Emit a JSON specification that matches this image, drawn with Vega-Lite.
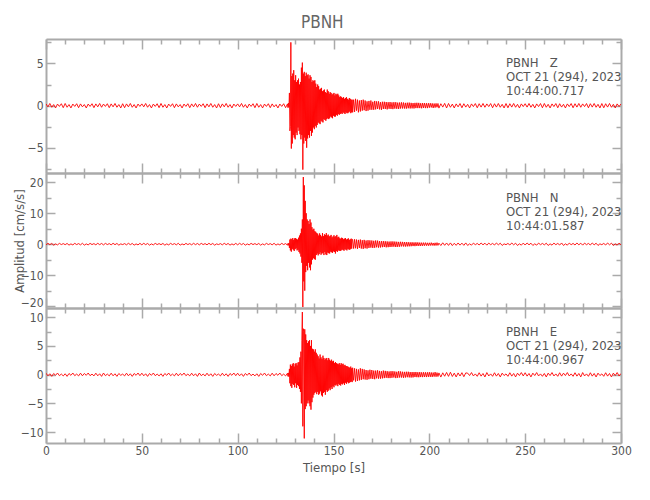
{
"$schema": "https://vega.github.io/schema/vega-lite/v6.json",
"background": "white",
"padding": {"left": 13, "top": 14, "right": 10, "bottom": 5},
"bounds": "flush",
"title": {"text": "PBNH", "fontSize": 17, "font": "DejaVu Sans Condensed, sans-serif", "fontWeight": "normal", "color": "#666666", "anchor": "middle", "offset": 4},
"spacing": 0,
"config": {
  "view": {"stroke": null},
  "concat": {"spacing": 0},
  "axis": {"domainColor": "#aaaaaa", "domainWidth": 2, "tickColor": "#aaaaaa", "tickWidth": 1.5, "labelColor": "#555555", "labelFont": "DejaVu Sans Condensed, sans-serif", "labelFontSize": 12, "titleFont": "DejaVu Sans Condensed, sans-serif", "titleFontSize": 13, "titleFontWeight": "normal", "titleColor": "#555555", "grid": false, "labelFlush": false, "labelOverlap": false}
},
"datasets": {
"lab": [
{"c": "Z", "t": 240, "v": 5.8, "s": "PBNH\u00a0\u00a0\u00a0Z|OCT 21 (294), 2023|10:44:00.717"},
{"c": "N", "t": 240, "v": 17.0, "s": "PBNH\u00a0\u00a0\u00a0N|OCT 21 (294), 2023|10:44:01.587"},
{"c": "E", "t": 240, "v": 8.5, "s": "PBNH\u00a0\u00a0\u00a0E|OCT 21 (294), 2023|10:44:00.967"}
],
"w": [
{"t":0,"z":0.2,"n":-0.2,"e":0.25},{"t":1,"z":-0.15,"n":0.3,"e":-0.2},{"t":2,"z":0.25,"n":-0.15,"e":0.15},{"t":3,"z":-0.2,"n":0.25,"e":-0.3},{"t":4,"z":0.12,"n":-0.3,"e":0.2},{"t":5,"z":-0.28,"n":0.1,"e":-0.12},{"t":6,"z":0.18,"n":-0.22,"e":0.28},{"t":7,"z":-0.1,"n":0.28,"e":-0.18},{"t":8,"z":0.22,"n":-0.12,"e":0.1},{"t":9,"z":-0.25,"n":0.2,"e":-0.22},
{"t":10,"z":0.25,"n":-0.15,"e":0.15},{"t":11,"z":-0.2,"n":0.25,"e":-0.3},{"t":12,"z":0.12,"n":-0.3,"e":0.2},{"t":13,"z":-0.28,"n":0.1,"e":-0.12},{"t":14,"z":0.18,"n":-0.22,"e":0.28},{"t":15,"z":-0.1,"n":0.28,"e":-0.18},{"t":16,"z":0.22,"n":-0.12,"e":0.1},{"t":17,"z":-0.25,"n":0.2,"e":-0.22},{"t":18,"z":0.2,"n":-0.2,"e":0.25},{"t":19,"z":-0.15,"n":0.3,"e":-0.2},
{"t":20,"z":0.12,"n":-0.3,"e":0.2},{"t":21,"z":-0.28,"n":0.1,"e":-0.12},{"t":22,"z":0.18,"n":-0.22,"e":0.28},{"t":23,"z":-0.1,"n":0.28,"e":-0.18},{"t":24,"z":0.22,"n":-0.12,"e":0.1},{"t":25,"z":-0.25,"n":0.2,"e":-0.22},{"t":26,"z":0.2,"n":-0.2,"e":0.25},{"t":27,"z":-0.15,"n":0.3,"e":-0.2},{"t":28,"z":0.25,"n":-0.15,"e":0.15},{"t":29,"z":-0.2,"n":0.25,"e":-0.3},
{"t":30,"z":0.18,"n":-0.22,"e":0.28},{"t":31,"z":-0.1,"n":0.28,"e":-0.18},{"t":32,"z":0.22,"n":-0.12,"e":0.1},{"t":33,"z":-0.25,"n":0.2,"e":-0.22},{"t":34,"z":0.2,"n":-0.2,"e":0.25},{"t":35,"z":-0.15,"n":0.3,"e":-0.2},{"t":36,"z":0.25,"n":-0.15,"e":0.15},{"t":37,"z":-0.2,"n":0.25,"e":-0.3},{"t":38,"z":0.12,"n":-0.3,"e":0.2},{"t":39,"z":-0.28,"n":0.1,"e":-0.12},
{"t":40,"z":0.22,"n":-0.12,"e":0.1},{"t":41,"z":-0.25,"n":0.2,"e":-0.22},{"t":42,"z":0.2,"n":-0.2,"e":0.25},{"t":43,"z":-0.15,"n":0.3,"e":-0.2},{"t":44,"z":0.25,"n":-0.15,"e":0.15},{"t":45,"z":-0.2,"n":0.25,"e":-0.3},{"t":46,"z":0.12,"n":-0.3,"e":0.2},{"t":47,"z":-0.28,"n":0.1,"e":-0.12},{"t":48,"z":0.18,"n":-0.22,"e":0.28},{"t":49,"z":-0.1,"n":0.28,"e":-0.18},
{"t":50,"z":0.2,"n":-0.2,"e":0.25},{"t":51,"z":-0.15,"n":0.3,"e":-0.2},{"t":52,"z":0.25,"n":-0.15,"e":0.15},{"t":53,"z":-0.2,"n":0.25,"e":-0.3},{"t":54,"z":0.12,"n":-0.3,"e":0.2},{"t":55,"z":-0.28,"n":0.1,"e":-0.12},{"t":56,"z":0.18,"n":-0.22,"e":0.28},{"t":57,"z":-0.1,"n":0.28,"e":-0.18},{"t":58,"z":0.22,"n":-0.12,"e":0.1},{"t":59,"z":-0.25,"n":0.2,"e":-0.22},
{"t":60,"z":0.25,"n":-0.15,"e":0.15},{"t":61,"z":-0.2,"n":0.25,"e":-0.3},{"t":62,"z":0.12,"n":-0.3,"e":0.2},{"t":63,"z":-0.28,"n":0.1,"e":-0.12},{"t":64,"z":0.18,"n":-0.22,"e":0.28},{"t":65,"z":-0.1,"n":0.28,"e":-0.18},{"t":66,"z":0.22,"n":-0.12,"e":0.1},{"t":67,"z":-0.25,"n":0.2,"e":-0.22},{"t":68,"z":0.2,"n":-0.2,"e":0.25},{"t":69,"z":-0.15,"n":0.3,"e":-0.2},
{"t":70,"z":0.12,"n":-0.3,"e":0.2},{"t":71,"z":-0.28,"n":0.1,"e":-0.12},{"t":72,"z":0.18,"n":-0.22,"e":0.28},{"t":73,"z":-0.1,"n":0.28,"e":-0.18},{"t":74,"z":0.22,"n":-0.12,"e":0.1},{"t":75,"z":-0.25,"n":0.2,"e":-0.22},{"t":76,"z":0.2,"n":-0.2,"e":0.25},{"t":77,"z":-0.15,"n":0.3,"e":-0.2},{"t":78,"z":0.25,"n":-0.15,"e":0.15},{"t":79,"z":-0.2,"n":0.25,"e":-0.3},
{"t":80,"z":0.18,"n":-0.22,"e":0.28},{"t":81,"z":-0.1,"n":0.28,"e":-0.18},{"t":82,"z":0.22,"n":-0.12,"e":0.1},{"t":83,"z":-0.25,"n":0.2,"e":-0.22},{"t":84,"z":0.2,"n":-0.2,"e":0.25},{"t":85,"z":-0.15,"n":0.3,"e":-0.2},{"t":86,"z":0.25,"n":-0.15,"e":0.15},{"t":87,"z":-0.2,"n":0.25,"e":-0.3},{"t":88,"z":0.12,"n":-0.3,"e":0.2},{"t":89,"z":-0.28,"n":0.1,"e":-0.12},
{"t":90,"z":0.22,"n":-0.12,"e":0.1},{"t":91,"z":-0.25,"n":0.2,"e":-0.22},{"t":92,"z":0.2,"n":-0.2,"e":0.25},{"t":93,"z":-0.15,"n":0.3,"e":-0.2},{"t":94,"z":0.25,"n":-0.15,"e":0.15},{"t":95,"z":-0.2,"n":0.25,"e":-0.3},{"t":96,"z":0.12,"n":-0.3,"e":0.2},{"t":97,"z":-0.28,"n":0.1,"e":-0.12},{"t":98,"z":0.18,"n":-0.22,"e":0.28},{"t":99,"z":-0.1,"n":0.28,"e":-0.18},
{"t":100,"z":0.2,"n":-0.2,"e":0.25},{"t":101,"z":-0.15,"n":0.3,"e":-0.2},{"t":102,"z":0.25,"n":-0.15,"e":0.15},{"t":103,"z":-0.2,"n":0.25,"e":-0.3},{"t":104,"z":0.12,"n":-0.3,"e":0.2},{"t":105,"z":-0.28,"n":0.1,"e":-0.12},{"t":106,"z":0.18,"n":-0.22,"e":0.28},{"t":107,"z":-0.1,"n":0.28,"e":-0.18},{"t":108,"z":0.22,"n":-0.12,"e":0.1},{"t":109,"z":-0.25,"n":0.2,"e":-0.22},
{"t":110,"z":0.25,"n":-0.15,"e":0.15},{"t":111,"z":-0.2,"n":0.25,"e":-0.3},{"t":112,"z":0.12,"n":-0.3,"e":0.2},{"t":113,"z":-0.28,"n":0.1,"e":-0.12},{"t":114,"z":0.18,"n":-0.22,"e":0.28},{"t":115,"z":-0.1,"n":0.28,"e":-0.18},{"t":116,"z":0.22,"n":-0.12,"e":0.1},{"t":117,"z":-0.25,"n":0.2,"e":-0.22},{"t":118,"z":0.2,"n":-0.2,"e":0.25},{"t":119,"z":-0.15,"n":0.3,"e":-0.2},
{"t":120,"z":0.12,"n":-0.3,"e":0.2},{"t":121,"z":-0.28,"n":0.1,"e":-0.12},{"t":122,"z":0.18,"n":-0.22,"e":0.28},{"t":123,"z":-0.1,"n":0.28,"e":-0.18},{"t":124,"z":0.22,"n":-0.12,"e":0.1},{"t":125,"z":-0.25,"n":0.2,"e":-0.22},
{"t":126,"z":0.2,"n":-0.3,"e":0.25},{"t":126.25,"z":-0.25,"n":0.25,"e":-0.3},{"t":126.5,"z":0.3,"n":-0.35,"e":0.3},{"t":126.75,"z":-0.2,"n":0.4,"e":-0.35},
{"t":127,"z":1.5,"n":-1.2,"e":1.0},{"t":127.25,"z":-3.0,"n":1.5,"e":-1.5},{"t":127.5,"z":-2.5,"n":-2.0,"e":1.75},{"t":127.75,"z":7.5,"n":1.8,"e":-2.0},
{"t":128,"z":-5.1,"n":-2.4,"e":1.5},{"t":128.25,"z":3.5,"n":1.6,"e":-2.3},{"t":128.5,"z":-4.5,"n":-1.5,"e":1.8},{"t":128.75,"z":3.8,"n":2.0,"e":-1.6},
{"t":129,"z":-3.5,"n":-1.8,"e":2.0},{"t":129.25,"z":4.2,"n":1.4,"e":-1.8},{"t":129.5,"z":-3.8,"n":-2.2,"e":1.4},{"t":129.75,"z":3.0,"n":1.9,"e":-2.2},
{"t":130,"z":-4.0,"n":-1.6,"e":1.9},{"t":130.25,"z":3.6,"n":2.0,"e":-1.5},{"t":130.5,"z":-3.2,"n":-1.3,"e":2.0},{"t":130.75,"z":2.8,"n":1.7,"e":-2.3},
{"t":131,"z":-3.5,"n":-2.0,"e":1.6},{"t":131.25,"z":3.0,"n":1.5,"e":-1.8},{"t":131.5,"z":-2.6,"n":-1.8,"e":2.1},{"t":131.75,"z":3.2,"n":2.1,"e":-2.0},
{"t":132,"z":-3.0,"n":-2.5,"e":2.2},{"t":132.25,"z":2.5,"n":2.8,"e":-2.5},{"t":132.5,"z":-3.4,"n":-3.0,"e":3.0},{"t":132.75,"z":2.8,"n":3.5,"e":-3.0},
{"t":133,"z":-4.0,"n":-4.0,"e":4.0},{"t":133.25,"z":4.5,"n":5.0,"e":-5.0},{"t":133.5,"z":-3.5,"n":-6.0,"e":6.0},{"t":133.75,"z":5.1,"n":8.0,"e":10.9},
{"t":134,"z":-7.6,"n":-20.3,"e":-9.0},{"t":134.25,"z":3.8,"n":21.7,"e":8.0},{"t":134.5,"z":-4.5,"n":-12.0,"e":7.5},{"t":134.75,"z":4.0,"n":19.0,"e":-11.1},
{"t":135,"z":-3.8,"n":-15.0,"e":7.9},{"t":135.25,"z":3.5,"n":14.0,"e":-6.0},{"t":135.5,"z":-4.2,"n":-9.0,"e":7.0},{"t":135.75,"z":3.9,"n":10.0,"e":-5.5},
{"t":136,"z":-5.0,"n":-7.0,"e":6.0},{"t":136.25,"z":3.6,"n":8.0,"e":-5.0},{"t":136.5,"z":-3.9,"n":-8.4,"e":5.5},{"t":136.75,"z":3.7,"n":7.5,"e":-4.5},
{"t":137,"z":-3.5,"n":-6.0,"e":5.8},{"t":137.25,"z":3.2,"n":6.5,"e":-5.0},{"t":137.5,"z":-3.8,"n":-7.5,"e":6.0},{"t":137.75,"z":3.6,"n":8.0,"e":-5.5},
{"t":138,"z":-3.0,"n":-8.4,"e":5.0},{"t":138.25,"z":3.4,"n":7.0,"e":-6.1},{"t":138.5,"z":-3.6,"n":-6.5,"e":6.0},{"t":138.75,"z":2.8,"n":5.5,"e":-4.8},
{"t":139,"z":-3.2,"n":-5.0,"e":4.5},{"t":139.25,"z":3.0,"n":4.7,"e":-4.0},{"t":139.5,"z":-2.6,"n":-4.5,"e":4.4},{"t":139.75,"z":2.9,"n":5.0,"e":-3.5},
{"t":140,"z":-2.8,"n":-4.8,"e":4.0},{"t":140.25,"z":3.0,"n":4.2,"e":-3.2},{"t":140.5,"z":-2.4,"n":-5.0,"e":4.4},{"t":140.75,"z":2.6,"n":4.0,"e":-3.0},
{"t":141,"z":-2.6,"n":-3.5,"e":3.8},{"t":141.25,"z":2.2,"n":3.6,"e":-3.4},{"t":141.5,"z":-2.3,"n":-3.0,"e":3.5},{"t":141.75,"z":2.5,"n":3.4,"e":-3.0},
{"t":142,"z":-2.0,"n":-3.6,"e":3.2},{"t":142.25,"z":2.3,"n":2.8,"e":-3.5},{"t":142.5,"z":-2.1,"n":-3.2,"e":2.8},{"t":142.75,"z":1.9,"n":3.5,"e":-3.3},
{"t":143,"z":-2.2,"n":-2.6,"e":3.5},{"t":143.25,"z":2.0,"n":3.0,"e":-2.9},{"t":143.5,"z":-1.8,"n":-3.4,"e":3.0},{"t":143.75,"z":2.1,"n":2.5,"e":-3.6},
{"t":144,"z":-1.9,"n":-3.0,"e":2.7},{"t":144.25,"z":1.7,"n":3.6,"e":-3.8},{"t":144.5,"z":-2.0,"n":-2.8,"e":3.3},{"t":144.75,"z":1.8,"n":2.6,"e":-3.2},
{"t":145,"z":-1.6,"n":-3.5,"e":2.9},{"t":145.25,"z":1.9,"n":3.2,"e":-3.0},{"t":145.5,"z":-1.7,"n":-2.5,"e":2.6},{"t":145.75,"z":1.6,"n":3.0,"e":-3.5},
{"t":146,"z":-1.8,"n":-3.3,"e":2.8},{"t":146.25,"z":1.5,"n":3.6,"e":-2.7},{"t":146.5,"z":-1.6,"n":-3.5,"e":2.9},{"t":146.75,"z":1.9,"n":2.8,"e":-3.0},
{"t":147,"z":-1.5,"n":-2.7,"e":2.5},{"t":147.25,"z":1.7,"n":3.1,"e":-2.8},{"t":147.5,"z":-1.6,"n":-2.9,"e":2.9},{"t":147.75,"z":1.4,"n":2.5,"e":-2.4},
{"t":148,"z":-1.5,"n":-3.0,"e":2.6},{"t":148.25,"z":1.6,"n":2.7,"e":-2.7},{"t":148.5,"z":-1.3,"n":-2.4,"e":2.4},{"t":148.75,"z":1.5,"n":3.0,"e":-2.2},
{"t":149,"z":-1.4,"n":-2.6,"e":2.6},{"t":149.25,"z":1.3,"n":2.2,"e":-2.5},{"t":149.5,"z":-1.5,"n":-2.8,"e":2.3},{"t":149.75,"z":1.4,"n":2.5,"e":-2.0},
{"t":150,"z":-1.2,"n":-2.3,"e":2.4},{"t":150.25,"z":1.5,"n":2.9,"e":-2.2},{"t":150.5,"z":-1.3,"n":-2.5,"e":2.0},{"t":150.75,"z":1.2,"n":2.4,"e":-1.8},
{"t":151,"z":-1.3,"n":-3.0,"e":2.2},{"t":151.25,"z":1.4,"n":2.6,"e":-1.9},{"t":151.5,"z":-1.1,"n":-2.2,"e":2.0},{"t":151.75,"z":1.3,"n":3.0,"e":-1.7},
{"t":152,"z":-1.2,"n":-2.5,"e":1.9},{"t":152.25,"z":1.4,"n":2.2,"e":-2.0},{"t":152.5,"z":-1.0,"n":-2.0,"e":1.8},{"t":152.75,"z":1.2,"n":2.4,"e":-1.6},
{"t":153,"z":-1.1,"n":-2.1,"e":2.0},{"t":153.25,"z":1.0,"n":1.9,"e":-1.8},{"t":153.5,"z":-1.0,"n":-2.2,"e":1.7},{"t":153.75,"z":1.1,"n":1.8,"e":-1.9},
{"t":154,"z":-0.9,"n":-2.0,"e":2.0},{"t":154.25,"z":1.0,"n":2.1,"e":-1.6},{"t":154.5,"z":-1.0,"n":-1.7,"e":1.8},{"t":154.75,"z":0.9,"n":2.0,"e":-1.7},
{"t":155,"z":-0.8,"n":-1.9,"e":1.9},{"t":155.25,"z":1.0,"n":1.6,"e":-1.5},{"t":155.5,"z":-0.9,"n":-2.1,"e":1.6},{"t":155.75,"z":0.8,"n":1.8,"e":-1.8},
{"t":156,"z":-1.0,"n":-1.6,"e":1.7},{"t":156.25,"z":0.9,"n":2.0,"e":-1.4},{"t":156.5,"z":-0.8,"n":-1.8,"e":1.5},{"t":156.75,"z":1.0,"n":1.5,"e":-1.6},
{"t":157,"z":-0.9,"n":-2.0,"e":1.5},{"t":157.25,"z":0.8,"n":1.7,"e":-1.3},{"t":157.5,"z":-0.9,"n":-1.5,"e":1.4},{"t":157.75,"z":0.7,"n":1.9,"e":-1.5},
{"t":158,"z":-0.8,"n":-1.7,"e":1.3},{"t":158.25,"z":0.9,"n":1.4,"e":-1.4},{"t":158.5,"z":-0.7,"n":-1.8,"e":1.2},{"t":158.75,"z":0.8,"n":1.6,"e":-1.3},
{"t":159,"z":-0.9,"n":-1.5,"e":1.4},{"t":159.25,"z":0.7,"n":1.8,"e":-1.2},{"t":159.5,"z":-0.8,"n":-1.4,"e":1.1},{"t":159.75,"z":0.7,"n":1.6,"e":-1.3},
{"t":160,"z":-0.8,"n":1.5,"e":1.2},{"t":160.5,"z":0.7,"n":-1.4,"e":-1.0},{"t":161,"z":-0.75,"n":1.6,"e":1.1},{"t":161.5,"z":0.8,"n":-1.3,"e":-1.2},
{"t":162,"z":-0.6,"n":1.5,"e":1.0},{"t":162.5,"z":0.7,"n":-1.5,"e":-1.1},{"t":163,"z":-0.8,"n":1.4,"e":0.9},{"t":163.5,"z":0.6,"n":-1.2,"e":-1.0},
{"t":164,"z":-0.7,"n":1.5,"e":1.1},{"t":164.5,"z":0.65,"n":-1.4,"e":-0.9},{"t":165,"z":-0.6,"n":1.3,"e":1.0},{"t":165.5,"z":0.7,"n":-1.5,"e":-0.8},
{"t":166,"z":-0.55,"n":1.4,"e":0.9},{"t":166.5,"z":0.6,"n":-1.3,"e":-0.85},{"t":167,"z":-0.65,"n":1.2,"e":0.8},{"t":167.5,"z":0.5,"n":-1.4,"e":-0.9},
{"t":168,"z":-0.6,"n":1.3,"e":0.75},{"t":168.5,"z":0.55,"n":-1.2,"e":-0.8},{"t":169,"z":-0.5,"n":1.25,"e":0.85},{"t":169.5,"z":0.6,"n":-1.1,"e":-0.7},
{"t":170,"z":-0.5,"n":1.2,"e":0.8},{"t":170.5,"z":0.45,"n":-1.2,"e":-0.75},{"t":171,"z":-0.5,"n":1.1,"e":0.7},{"t":171.5,"z":0.55,"n":-1.15,"e":-0.8},
{"t":172,"z":-0.45,"n":1.2,"e":0.7},{"t":172.5,"z":0.5,"n":-1.0,"e":-0.65},{"t":173,"z":-0.4,"n":1.15,"e":0.75},{"t":173.5,"z":0.5,"n":-1.1,"e":-0.7},
{"t":174,"z":-0.45,"n":1.0,"e":0.65},{"t":174.5,"z":0.4,"n":-1.05,"e":-0.7},{"t":175,"z":-0.5,"n":1.0,"e":0.6},{"t":175.5,"z":0.45,"n":-0.95,"e":-0.65},
{"t":176,"z":-0.4,"n":1.0,"e":0.7},{"t":176.5,"z":0.45,"n":-0.9,"e":-0.6},{"t":177,"z":-0.4,"n":0.95,"e":0.65},{"t":177.5,"z":0.42,"n":-1.0,"e":-0.55},
{"t":178,"z":-0.45,"n":0.9,"e":0.6},{"t":178.5,"z":0.4,"n":-0.95,"e":-0.6},{"t":179,"z":-0.38,"n":0.85,"e":0.55},{"t":179.5,"z":0.42,"n":-0.9,"e":-0.6},
{"t":180,"z":-0.4,"n":0.9,"e":0.6},{"t":180.5,"z":0.38,"n":-0.85,"e":-0.55},{"t":181,"z":-0.42,"n":0.9,"e":0.6},{"t":181.5,"z":0.4,"n":-0.8,"e":-0.5},
{"t":182,"z":-0.36,"n":0.85,"e":0.55},{"t":182.5,"z":0.4,"n":-0.9,"e":-0.6},{"t":183,"z":-0.38,"n":0.8,"e":0.5},{"t":183.5,"z":0.35,"n":-0.85,"e":-0.55},
{"t":184,"z":-0.4,"n":0.75,"e":0.6},{"t":184.5,"z":0.36,"n":-0.8,"e":-0.5},{"t":185,"z":-0.35,"n":0.78,"e":0.55},{"t":185.5,"z":0.38,"n":-0.7,"e":-0.5},
{"t":186,"z":-0.34,"n":0.75,"e":0.5},{"t":186.5,"z":0.36,"n":-0.72,"e":-0.55},{"t":187,"z":-0.35,"n":0.7,"e":0.48},{"t":187.5,"z":0.32,"n":-0.75,"e":-0.5},
{"t":188,"z":-0.36,"n":0.68,"e":0.5},{"t":188.5,"z":0.34,"n":-0.7,"e":-0.45},{"t":189,"z":-0.32,"n":0.65,"e":0.5},{"t":189.5,"z":0.35,"n":-0.68,"e":-0.48},
{"t":190,"z":-0.34,"n":0.6,"e":0.45},{"t":190.5,"z":0.32,"n":-0.65,"e":-0.5},{"t":191,"z":-0.33,"n":0.62,"e":0.45},{"t":191.5,"z":0.3,"n":-0.6,"e":-0.48},
{"t":192,"z":-0.34,"n":0.58,"e":0.45},{"t":192.5,"z":0.32,"n":-0.62,"e":-0.42},{"t":193,"z":-0.3,"n":0.6,"e":0.46},{"t":193.5,"z":0.33,"n":-0.55,"e":-0.44},
{"t":194,"z":-0.3,"n":0.58,"e":0.42},{"t":194.5,"z":0.32,"n":-0.55,"e":-0.45},{"t":195,"z":-0.3,"n":0.52,"e":0.44},{"t":195.5,"z":0.28,"n":-0.55,"e":-0.42},
{"t":196,"z":-0.32,"n":0.5,"e":0.4},{"t":196.5,"z":0.3,"n":-0.52,"e":-0.43},{"t":197,"z":-0.28,"n":0.5,"e":0.42},{"t":197.5,"z":0.3,"n":-0.48,"e":-0.4},
{"t":198,"z":-0.3,"n":0.5,"e":0.4},{"t":198.5,"z":0.28,"n":-0.46,"e":-0.42},{"t":199,"z":-0.3,"n":0.45,"e":0.4},{"t":199.5,"z":0.28,"n":-0.48,"e":-0.38},
{"t":200,"z":-0.25,"n":0.45,"e":0.42},{"t":200.5,"z":0.28,"n":-0.42,"e":-0.38},{"t":201,"z":-0.22,"n":0.5,"e":0.38},{"t":201.5,"z":0.26,"n":-0.4,"e":-0.4},{"t":202,"z":-0.28,"n":0.4,"e":0.36},{"t":202.5,"z":0.24,"n":-0.45,"e":-0.34},{"t":203,"z":-0.24,"n":0.45,"e":0.44},{"t":203.5,"z":0.26,"n":-0.42,"e":-0.36},{"t":204,"z":-0.2,"n":0.5,"e":0.35},{"t":204.5,"z":0.25,"n":-0.38,"e":-0.33},
{"t":205,"z":-0.3,"n":0.35,"e":0.3},{"t":206,"z":0.22,"n":-0.42,"e":-0.42},{"t":207,"z":-0.18,"n":0.46,"e":0.32},{"t":208,"z":0.26,"n":-0.35,"e":-0.28},{"t":209,"z":-0.28,"n":0.4,"e":0.38},
{"t":210,"z":0.25,"n":-0.38,"e":-0.3},{"t":211,"z":-0.2,"n":0.42,"e":0.42},{"t":212,"z":0.18,"n":-0.45,"e":-0.32},{"t":213,"z":-0.28,"n":0.3,"e":0.26},{"t":214,"z":0.2,"n":-0.36,"e":-0.4},{"t":215,"z":-0.15,"n":0.4,"e":0.3},{"t":216,"z":0.24,"n":-0.3,"e":-0.24},{"t":217,"z":-0.26,"n":0.34,"e":0.34},{"t":218,"z":0.22,"n":-0.36,"e":-0.36},{"t":219,"z":-0.18,"n":0.42,"e":0.3},
{"t":220,"z":0.15,"n":-0.4,"e":0.26},{"t":221,"z":-0.28,"n":0.13,"e":-0.16},{"t":222,"z":0.2,"n":-0.3,"e":0.36},{"t":223,"z":-0.12,"n":0.36,"e":-0.23},{"t":224,"z":0.24,"n":-0.16,"e":0.13},{"t":225,"z":-0.26,"n":0.26,"e":-0.29},{"t":226,"z":0.22,"n":-0.26,"e":0.33},{"t":227,"z":-0.18,"n":0.4,"e":-0.26},{"t":228,"z":0.25,"n":-0.2,"e":0.2},{"t":229,"z":-0.2,"n":0.33,"e":-0.4},
{"t":230,"z":0.2,"n":-0.3,"e":0.36},{"t":231,"z":-0.12,"n":0.36,"e":-0.23},{"t":232,"z":0.24,"n":-0.16,"e":0.13},{"t":233,"z":-0.26,"n":0.26,"e":-0.29},{"t":234,"z":0.22,"n":-0.26,"e":0.33},{"t":235,"z":-0.18,"n":0.4,"e":-0.26},{"t":236,"z":0.25,"n":-0.2,"e":0.2},{"t":237,"z":-0.2,"n":0.33,"e":-0.4},{"t":238,"z":0.15,"n":-0.4,"e":0.26},{"t":239,"z":-0.28,"n":0.13,"e":-0.16},
{"t":240,"z":0.24,"n":-0.16,"e":0.13},{"t":241,"z":-0.26,"n":0.26,"e":-0.29},{"t":242,"z":0.22,"n":-0.26,"e":0.33},{"t":243,"z":-0.18,"n":0.4,"e":-0.26},{"t":244,"z":0.25,"n":-0.2,"e":0.2},{"t":245,"z":-0.2,"n":0.33,"e":-0.4},{"t":246,"z":0.15,"n":-0.4,"e":0.26},{"t":247,"z":-0.28,"n":0.13,"e":-0.16},{"t":248,"z":0.2,"n":-0.3,"e":0.36},{"t":249,"z":-0.12,"n":0.36,"e":-0.23},
{"t":250,"z":0.22,"n":-0.26,"e":0.33},{"t":251,"z":-0.18,"n":0.4,"e":-0.26},{"t":252,"z":0.25,"n":-0.2,"e":0.2},{"t":253,"z":-0.2,"n":0.33,"e":-0.4},{"t":254,"z":0.15,"n":-0.4,"e":0.26},{"t":255,"z":-0.28,"n":0.13,"e":-0.16},{"t":256,"z":0.2,"n":-0.3,"e":0.36},{"t":257,"z":-0.12,"n":0.36,"e":-0.23},{"t":258,"z":0.24,"n":-0.16,"e":0.13},{"t":259,"z":-0.26,"n":0.26,"e":-0.29},
{"t":260,"z":0.25,"n":-0.2,"e":0.2},{"t":261,"z":-0.2,"n":0.33,"e":-0.4},{"t":262,"z":0.15,"n":-0.4,"e":0.26},{"t":263,"z":-0.28,"n":0.13,"e":-0.16},{"t":264,"z":0.2,"n":-0.3,"e":0.36},{"t":265,"z":-0.12,"n":0.36,"e":-0.23},{"t":266,"z":0.24,"n":-0.16,"e":0.13},{"t":267,"z":-0.26,"n":0.26,"e":-0.29},{"t":268,"z":0.22,"n":-0.26,"e":0.33},{"t":269,"z":-0.18,"n":0.4,"e":-0.26},
{"t":270,"z":0.15,"n":-0.4,"e":0.26},{"t":271,"z":-0.28,"n":0.13,"e":-0.16},{"t":272,"z":0.2,"n":-0.3,"e":0.36},{"t":273,"z":-0.12,"n":0.36,"e":-0.23},{"t":274,"z":0.24,"n":-0.16,"e":0.13},{"t":275,"z":-0.26,"n":0.26,"e":-0.29},{"t":276,"z":0.22,"n":-0.26,"e":0.33},{"t":277,"z":-0.18,"n":0.4,"e":-0.26},{"t":278,"z":0.25,"n":-0.2,"e":0.2},{"t":279,"z":-0.2,"n":0.33,"e":-0.4},
{"t":280,"z":0.2,"n":-0.3,"e":0.36},{"t":281,"z":-0.12,"n":0.36,"e":-0.23},{"t":282,"z":0.24,"n":-0.16,"e":0.13},{"t":283,"z":-0.26,"n":0.26,"e":-0.29},{"t":284,"z":0.22,"n":-0.26,"e":0.33},{"t":285,"z":-0.18,"n":0.4,"e":-0.26},{"t":286,"z":0.25,"n":-0.2,"e":0.2},{"t":287,"z":-0.2,"n":0.33,"e":-0.4},{"t":288,"z":0.15,"n":-0.4,"e":0.26},{"t":289,"z":-0.28,"n":0.13,"e":-0.16},
{"t":290,"z":0.24,"n":-0.16,"e":0.13},{"t":291,"z":-0.26,"n":0.26,"e":-0.29},{"t":292,"z":0.22,"n":-0.26,"e":0.33},{"t":293,"z":-0.18,"n":0.4,"e":-0.26},{"t":294,"z":0.25,"n":-0.2,"e":0.2},{"t":295,"z":-0.2,"n":0.33,"e":-0.4},{"t":296,"z":0.15,"n":-0.4,"e":0.26},{"t":297,"z":-0.28,"n":0.13,"e":-0.16},{"t":298,"z":0.2,"n":-0.3,"e":0.36},{"t":299,"z":-0.12,"n":0.36,"e":-0.23},
{"t":300,"z":0.2,"n":-0.2,"e":0.2}
]
},
"vconcat": [
{
  "width": 575, "height": 134,
  "layer": [
    {"data": {"name": "w"}, "mark": {"type": "line", "color": "#ff0000", "strokeWidth": 0.9, "clip": true},
     "encoding": {
       "x": {"field": "t", "type": "quantitative", "scale": {"domain": [0, 300], "nice": false}, "axis": {"orient": "bottom", "title": null, "labels": false, "values": [0,10,20,30,40,50,60,70,80,90,100,110,120,130,140,150,160,170,180,190,200,210,220,230,240,250,260,270,280,290,300], "tickSize": {"condition": {"test": "datum.value % 50 === 0", "value": -10}, "value": -5}}},
       "y": {"field": "z", "type": "quantitative", "scale": {"domain": [-8, 7.9], "nice": false, "zero": false}, "axis": {"orient": "left", "title": null, "values": [-7.5,-5,-2.5,0,2.5,5,7.5], "labelExpr": "datum.value % 5 === 0 ? datum.label : ''", "tickSize": {"condition": {"test": "datum.value % 5 === 0", "value": -9}, "value": -5}, "labelPadding": 12}}
     }},
    {"data": {"name": "lab"}, "transform": [{"filter": "datum.c === 'Z'"}],
     "mark": {"type": "text", "align": "left", "baseline": "top", "lineBreak": "|", "font": "DejaVu Sans Condensed, sans-serif", "fontSize": 13, "color": "#555555", "lineHeight": 14},
     "encoding": {
       "x": {"field": "t", "type": "quantitative", "axis": {"orient": "top", "title": null, "labels": false, "values": [0,10,20,30,40,50,60,70,80,90,100,110,120,130,140,150,160,170,180,190,200,210,220,230,240,250,260,270,280,290,300], "tickSize": {"condition": {"test": "datum.value % 50 === 0", "value": -10}, "value": -5}}},
       "y": {"field": "v", "type": "quantitative", "axis": {"orient": "right", "title": null, "labels": false, "values": [-7.5,-5,-2.5,0,2.5,5,7.5], "tickSize": {"condition": {"test": "datum.value % 5 === 0", "value": -9}, "value": -5}}},
       "text": {"field": "s"}
     }}
  ],
  "resolve": {"axis": {"x": "independent", "y": "independent"}}
},
{
  "width": 575, "height": 135,
  "layer": [
    {"data": {"name": "w"}, "mark": {"type": "line", "color": "#ff0000", "strokeWidth": 0.9, "clip": true},
     "encoding": {
       "x": {"field": "t", "type": "quantitative", "scale": {"domain": [0, 300], "nice": false}, "axis": {"orient": "bottom", "title": null, "labels": false, "values": [0,10,20,30,40,50,60,70,80,90,100,110,120,130,140,150,160,170,180,190,200,210,220,230,240,250,260,270,280,290,300], "tickSize": {"condition": {"test": "datum.value % 50 === 0", "value": -10}, "value": -5}}},
       "y": {"field": "n", "type": "quantitative", "scale": {"domain": [-20.6, 23], "nice": false, "zero": false}, "axis": {"orient": "left", "title": "Amplitud [cm/s/s]", "values": [-20,-15,-10,-5,0,5,10,15,20], "labelExpr": "datum.value % 10 === 0 ? datum.label : ''", "labelBaseline": {"condition": {"test": "datum.value === -20", "value": "alphabetic"}, "value": "middle"}, "tickSize": {"condition": {"test": "datum.value % 10 === 0", "value": -9}, "value": -5}, "labelPadding": 12, "titlePadding": -6}}
     }},
    {"data": {"name": "lab"}, "transform": [{"filter": "datum.c === 'N'"}],
     "mark": {"type": "text", "align": "left", "baseline": "top", "lineBreak": "|", "font": "DejaVu Sans Condensed, sans-serif", "fontSize": 13, "color": "#555555", "lineHeight": 14},
     "encoding": {
       "x": {"field": "t", "type": "quantitative", "axis": {"orient": "top", "title": null, "labels": false, "values": [0,10,20,30,40,50,60,70,80,90,100,110,120,130,140,150,160,170,180,190,200,210,220,230,240,250,260,270,280,290,300], "tickSize": {"condition": {"test": "datum.value % 50 === 0", "value": -10}, "value": -5}}},
       "y": {"field": "v", "type": "quantitative", "axis": {"orient": "right", "title": null, "labels": false, "values": [-20,-15,-10,-5,0,5,10,15,20], "tickSize": {"condition": {"test": "datum.value % 10 === 0", "value": -9}, "value": -5}}},
       "text": {"field": "s"}
     }}
  ],
  "resolve": {"axis": {"x": "independent", "y": "independent"}}
},
{
  "width": 575, "height": 135,
  "layer": [
    {"data": {"name": "w"}, "mark": {"type": "line", "color": "#ff0000", "strokeWidth": 0.9, "clip": true},
     "encoding": {
       "x": {"field": "t", "type": "quantitative", "scale": {"domain": [0, 300], "nice": false}, "axis": {"orient": "bottom", "title": "Tiempo [s]", "values": [0,10,20,30,40,50,60,70,80,90,100,110,120,130,140,150,160,170,180,190,200,210,220,230,240,250,260,270,280,290,300], "labelExpr": "datum.value % 50 === 0 ? datum.label : ''", "tickSize": {"condition": {"test": "datum.value % 50 === 0", "value": -10}, "value": -5}, "labelPadding": 12, "titlePadding": 0}},
       "y": {"field": "e", "type": "quantitative", "scale": {"domain": [-11.9, 11.6], "nice": false, "zero": false}, "axis": {"orient": "left", "title": null, "values": [-10,-7.5,-5,-2.5,0,2.5,5,7.5,10], "labelExpr": "datum.value % 5 === 0 ? datum.label : ''", "tickSize": {"condition": {"test": "datum.value % 5 === 0", "value": -9}, "value": -5}, "labelPadding": 12}}
     }},
    {"data": {"name": "lab"}, "transform": [{"filter": "datum.c === 'E'"}],
     "mark": {"type": "text", "align": "left", "baseline": "top", "lineBreak": "|", "font": "DejaVu Sans Condensed, sans-serif", "fontSize": 13, "color": "#555555", "lineHeight": 14},
     "encoding": {
       "x": {"field": "t", "type": "quantitative", "axis": {"orient": "top", "title": null, "labels": false, "values": [0,10,20,30,40,50,60,70,80,90,100,110,120,130,140,150,160,170,180,190,200,210,220,230,240,250,260,270,280,290,300], "tickSize": {"condition": {"test": "datum.value % 50 === 0", "value": -10}, "value": -5}}},
       "y": {"field": "v", "type": "quantitative", "axis": {"orient": "right", "title": null, "labels": false, "values": [-10,-7.5,-5,-2.5,0,2.5,5,7.5,10], "tickSize": {"condition": {"test": "datum.value % 5 === 0", "value": -9}, "value": -5}}},
       "text": {"field": "s"}
     }}
  ],
  "resolve": {"axis": {"x": "independent", "y": "independent"}}
}
]
}
